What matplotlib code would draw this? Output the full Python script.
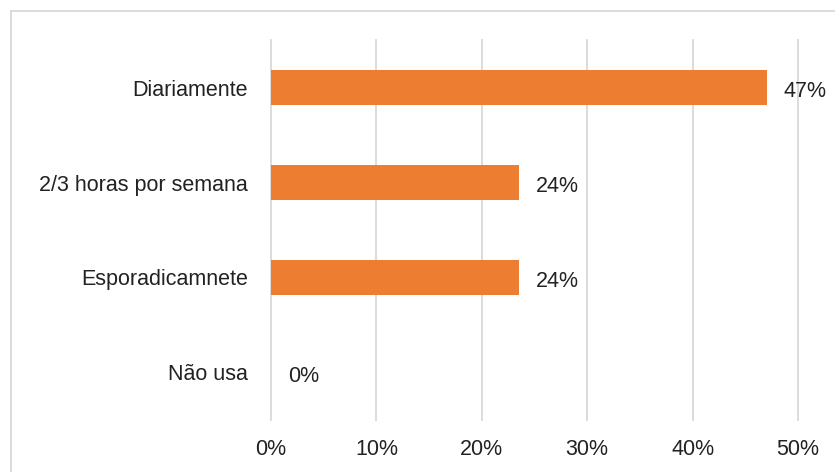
import matplotlib
matplotlib.use("Agg")
import matplotlib.pyplot as plt
from matplotlib.patches import Rectangle
from matplotlib.ticker import FuncFormatter

categories = ["Diariamente", "2/3 horas por semana", "Esporadicamnete", "Não usa"]
values = [8 / 17, 4 / 17, 4 / 17, 0.0]
labels = ["47%", "24%", "24%", "0%"]
xticks = [0, 0.1, 0.2, 0.3, 0.4, 0.5]

plt.rcParams['font.family'] = ['Liberation Sans', 'DejaVu Sans']

fig = plt.figure(figsize=(8.35, 4.72), dpi=100)
W, H = 835, 472
ax = fig.add_axes([271 / W, 1 - 420 / H, (798 - 271) / W, 380 / H])

# chart border
fig.patches.append(Rectangle((11 / W, -0.1), 1.2, 1 - 11 / H + 0.1,
                             transform=fig.transFigure, fill=False,
                             edgecolor='#d9d9d9', linewidth=1.3))

ypos = list(range(len(categories)))
ax.barh(ypos, values, height=0.36, color='#ED7D31', zorder=3)
for y, v, lab in zip(ypos, values, labels):
    ax.text(v + 0.016, y + 0.04, lab, va='center', ha='left', fontsize=15.5, color='#222222')

ax.set_ylim(3.5, -0.5)
ax.set_xlim(0, 0.5)
ax.set_yticks(ypos)
ax.set_yticklabels(categories, fontsize=15.5, color='#222222')
ax.set_xticks(xticks)
ax.xaxis.set_major_formatter(FuncFormatter(lambda x, p: f"{x * 100:.0f}%"))
ax.tick_params(axis='x', labelsize=15.5, labelcolor='#222222', length=0, pad=14)
ax.tick_params(axis='y', length=0, pad=16.5)
ax.grid(axis='x', color='#d9d9d9', linewidth=1.3, zorder=0)
for gl in ax.get_xgridlines():
    gl.set_clip_on(False)
for s in ax.spines.values():
    s.set_visible(False)

fig.savefig("out.png", dpi=100)
